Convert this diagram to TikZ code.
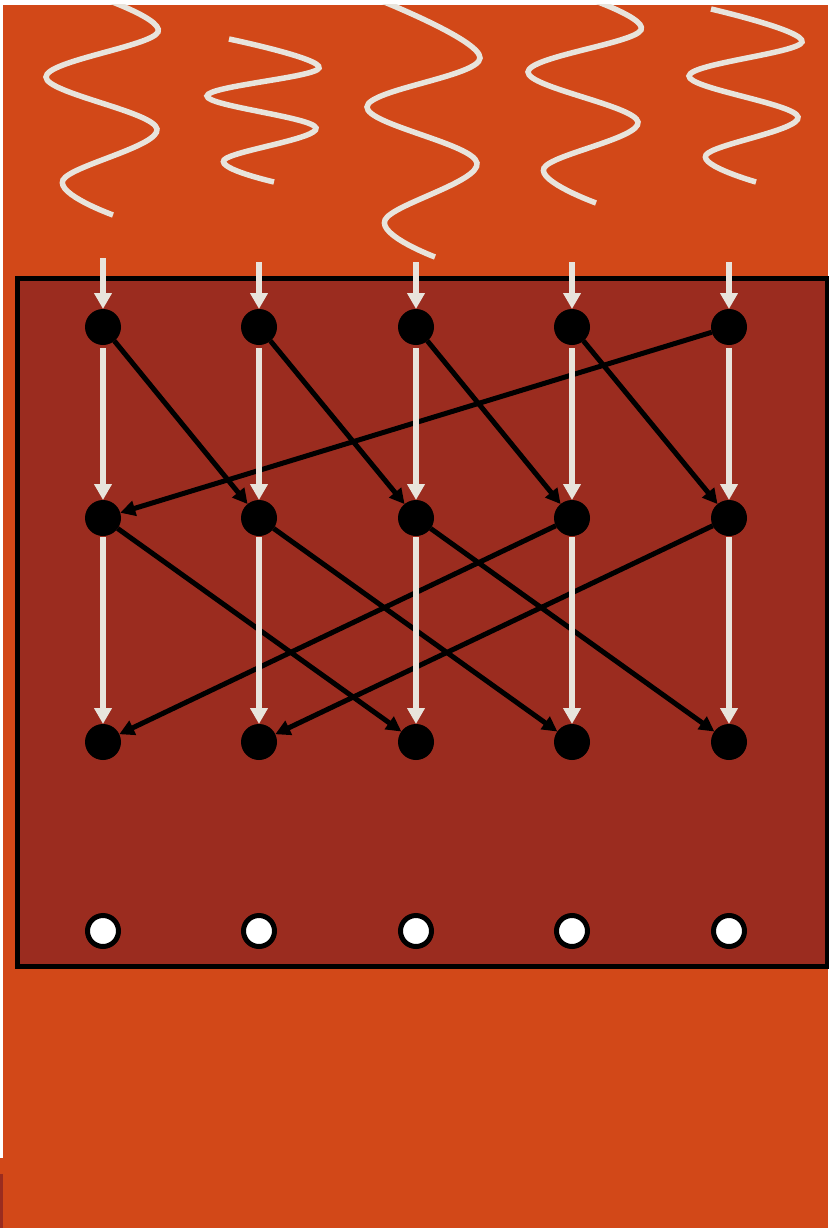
\documentclass[tikz,border=0pt]{standalone}
\usetikzlibrary{arrows.meta}
\definecolor{bgorange}{RGB}{210,72,24}
\definecolor{panelred}{RGB}{155,44,31}
\definecolor{cream}{RGB}{232,228,220}
\begin{document}
\begin{tikzpicture}[x=1pt,y=-1pt,
  dot/.style={circle,fill=black,minimum size=36pt,inner sep=0pt,outer sep=0pt},
  outdot/.style={circle,fill=white,draw=black,line width=5pt,minimum size=31pt,inner sep=0pt},
  flow/.style={draw=cream,line width=6pt,-{Triangle[length=16pt,width=17pt]}},
  link/.style={draw=black,line width=5pt,-{Triangle[length=15pt,width=15pt]}},
  wave/.style={draw=cream,line width=5.5pt}]
\useasboundingbox (0,0) rectangle (828,1228);
\fill[white] (0,0) rectangle (828,1228);
\fill[bgorange] (3,5) rectangle (828,1228);
\fill[bgorange] (0,1158) rectangle (3,1174);
\fill[panelred] (0,1174) rectangle (3,1228);
% waves
\begin{scope}
\clip (3,5) rectangle (828,1228);
\draw[wave] plot[smooth,tension=0.6] coordinates{(85,-8) (158,32) (46,77) (157,129) (63,180) (113,215)};
\draw[wave] plot[smooth,tension=0.6] coordinates{(229,39) (319,68) (207,96) (316,128) (224,160) (274,182)};
\draw[wave] plot[smooth,tension=0.6] coordinates{(372,-3) (480,58) (367,107) (477,163) (385,220) (435,257)};
\draw[wave] plot[smooth,tension=0.6] coordinates{(570,-8) (641,30) (528,72) (638,122) (544,168) (596,203)};
\draw[wave] plot[smooth,tension=0.6] coordinates{(711,9) (802,42) (689,76) (798,117) (706,155) (756,182)};
\end{scope}
% panel
\draw[line width=5pt,fill=panelred] (17,278) rectangle (827,966);
% nodes
\foreach \i/\x in {1/103,2/259,3/416,4/572,5/729}{
  \node[dot] (a\i) at (\x,327) {};
  \node[dot] (b\i) at (\x,518) {};
  \node[dot] (c\i) at (\x,742) {};
  \node[outdot] (d\i) at (\x,931) {};
}
\coordinate (t1) at (103,258);
\foreach \i/\x in {2/259,3/416,4/572,5/729}{\coordinate (t\i) at (\x,262);}
% black links
\draw[link] (a1) -- (b2);
\draw[link] (a2) -- (b3);
\draw[link] (a3) -- (b4);
\draw[link] (a4) -- (b5);
\draw[link] (a5) -- (b1);
\draw[link] (b1) -- (c3);
\draw[link] (b2) -- (c4);
\draw[link] (b3) -- (c5);
\draw[link] (b4) -- (c1);
\draw[link] (b5) -- (c2);
% white flows
\foreach \i in {1,...,5}{
  \draw[flow] (t\i) -- (a\i.north);
  \draw[flow,shorten <=3pt] (a\i.south) -- (b\i.north);
  \draw[flow,shorten <=1pt] (b\i.south) -- (c\i.north);
}
\end{tikzpicture}
\end{document}
